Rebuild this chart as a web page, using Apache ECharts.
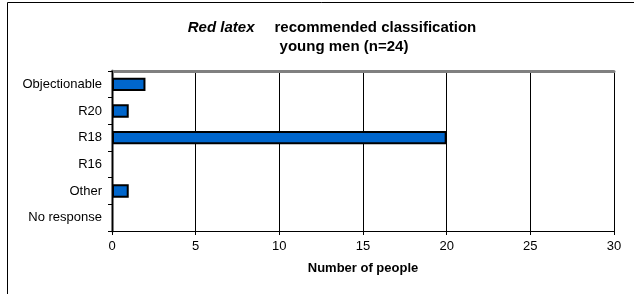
<!DOCTYPE html>
<html>
<head>
<meta charset="utf-8">
<script src="https://cdn.jsdelivr.net/npm/echarts@6/dist/echarts.min.js"></script>
<style>
html,body{margin:0;padding:0;background:#fff;}
#chart{width:634px;height:294px;}
</style>
</head>
<body>
<div id="chart"></div>
<script>
var categories = ['Objectionable', 'R20', 'R18', 'R16', 'Other', 'No response'];
var values = [2, 1, 20, 0, 1, 0];
var xMin = 0, xMax = 30, xInterval = 5;

var chart = echarts.init(document.getElementById('chart'), null, {renderer: 'canvas'});
var font = 'Arial, "Liberation Sans", sans-serif';
chart.setOption({
  animation: false,
  backgroundColor: '#ffffff',
  title: [
    {
      text: '{i|Red latex}    {b|recommended classification}',
      left: 327, top: 14, textAlign: 'center',
      textStyle: {
        rich: {
          i: {fontFamily: font, fontSize: 15, fontWeight: 'bold', fontStyle: 'italic', color: '#000'},
          b: {fontFamily: font, fontSize: 15, fontWeight: 'bold', color: '#000'}
        }
      }
    },
    {
      text: 'young men (n=24)',
      left: 339, top: 34, textAlign: 'center',
      textStyle: {fontFamily: font, fontSize: 15, fontWeight: 'bold', color: '#000'}
    }
  ],
  graphic: [
    {type: 'rect', shape: {x: 7.5, y: 2.5, width: 640, height: 300}, style: {fill: 'none', stroke: '#000', lineWidth: 1}, silent: true, z: -1}
  ],
  grid: {left: 112, right: 20, top: 71, bottom: 63, containLabel: false},
  xAxis: [
    {
      type: 'value', min: xMin, max: xMax, interval: xInterval, position: 'bottom',
      name: 'Number of people', nameLocation: 'middle', nameGap: 31,
      nameTextStyle: {fontFamily: font, fontSize: 13, fontWeight: 'bold', color: '#000'},
      axisLine: {show: true, lineStyle: {color: '#000', width: 1}},
      axisTick: {show: true, length: 4, lineStyle: {color: '#000'}},
      axisLabel: {fontFamily: font, fontSize: 13, color: '#000', margin: 9},
      splitLine: {show: true, lineStyle: {color: '#000', width: 1}}
    },
    {
      type: 'value', min: xMin, max: xMax, position: 'top',
      axisLine: {show: true, lineStyle: {color: '#808080', width: 3}},
      axisTick: {show: false}, axisLabel: {show: false}, splitLine: {show: false}
    }
  ],
  yAxis: [
    {
      type: 'category', data: categories, inverse: true, position: 'left',
      axisLine: {show: true, lineStyle: {color: '#000', width: 1}},
      axisTick: {show: true, length: 4, lineStyle: {color: '#000'}},
      axisLabel: {fontFamily: font, fontSize: 13, color: '#000', margin: 10},
      splitLine: {show: false},
      z: 5
    },
    {
      type: 'category', data: categories, inverse: true, position: 'right',
      axisLine: {show: true, lineStyle: {color: '#808080', width: 3}},
      axisTick: {show: false}, axisLabel: {show: false}, splitLine: {show: false}
    }
  ],
  series: [
    {
      type: 'bar',
      data: values.map(function (v) { return v === 0 ? null : v; }),
      xAxisIndex: 0, yAxisIndex: 0,
      barWidth: '50%',
      itemStyle: {color: '#0066CC', borderColor: '#000', borderWidth: 2},
      z: 3
    }
  ]
});
</script>
</body>
</html>
